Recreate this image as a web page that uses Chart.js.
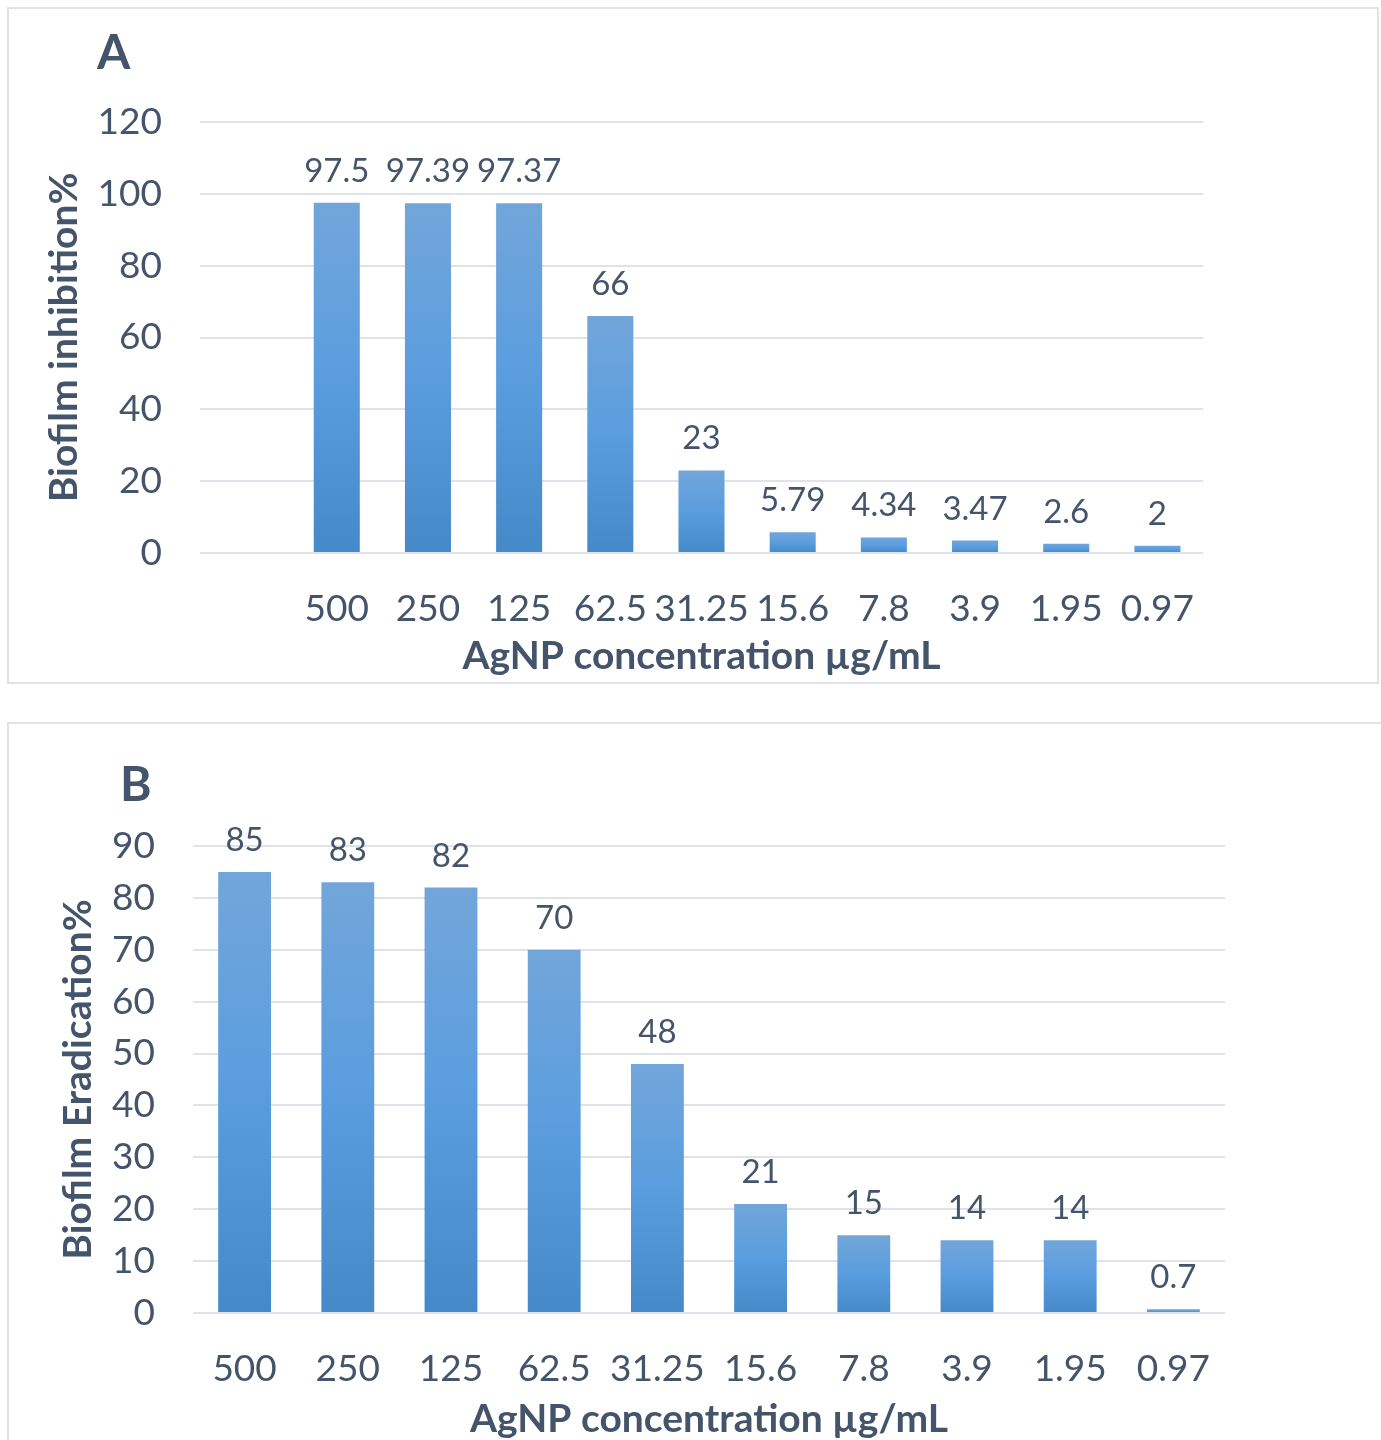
<!DOCTYPE html>
<html>
<head>
<meta charset="utf-8">
<script src="https://cdn.jsdelivr.net/npm/chart.js@4.4.1/dist/chart.umd.min.js"></script>
<style>
  html, body { margin: 0; padding: 0; background: #ffffff; }
  body { width: 1381px; height: 1440px; position: relative; overflow: hidden; font-family: Lato, sans-serif; }
  .panel { position: absolute; box-sizing: border-box; border: 2px solid #dfe3e8; background: #fff; }
  .panel canvas { position: absolute; left: 0; top: 0; }
  .tag { position: absolute; font: bold 48px/48px Lato, sans-serif; color: #44546a; }
</style>
</head>
<body>
<div class="panel" id="panelA" style="left:7px; top:7px; width:1372px; height:677px;">
  <canvas id="chartA" width="1368" height="673"></canvas>
</div>
<div class="panel" id="panelB" style="left:7px; top:722px; width:1390px; height:740px;">
  <canvas id="chartB" width="1372" height="716"></canvas>
</div>
<div class="tag" style="left:97px; top:27px;">A</div>
<div class="tag" style="left:120px; top:759px;">B</div>

<script>
// AgNP concentrations (µg/mL), highest to lowest
const concentrations = ['500', '250', '125', '62.5', '31.25', '15.6', '7.8', '3.9', '1.95', '0.97'];
// Biofilm inhibition (%) per concentration
const inhibition = [97.5, 97.39, 97.37, 66, 23, 5.79, 4.34, 3.47, 2.6, 2];
// Biofilm eradication (%) per concentration
const eradication = [85, 83, 82, 70, 48, 21, 15, 14, 14, 0.7];
// Value-axis ranges
const axisA = { max: 120, step: 20 };
const axisB = { max: 90, step: 10 };

const TEXT = '#44546a';
const GRID = '#dfe3e8';

Chart.defaults.font.family = 'Lato, sans-serif';
Chart.defaults.color = TEXT;

// Per-bar vertical gradient: lighter top, deeper bottom
function barFill(ctx) {
  const chart = ctx.chart;
  const v = ctx.raw;
  if (!chart.chartArea || v == null) return '#5b9bd5';
  const y = chart.scales.y;
  const top = y.getPixelForValue(v);
  const base = y.getPixelForValue(0);
  if (base - top < 1) return '#5b9bd5';
  const g = chart.ctx.createLinearGradient(0, top, 0, base);
  g.addColorStop(0, '#72a6da');
  g.addColorStop(0.5, '#5a9ddf');
  g.addColorStop(1, '#4689c8');
  return g;
}

// Writes each bar's value above it
const valueLabels = {
  id: 'valueLabels',
  afterDatasetsDraw(chart, args, opts) {
    const ctx = chart.ctx;
    const meta = chart.getDatasetMeta(0);
    const data = chart.data.datasets[0].data;
    ctx.save();
    ctx.font = opts.font;
    ctx.fillStyle = opts.color;
    ctx.textAlign = 'center';
    ctx.textBaseline = 'alphabetic';
    meta.data.forEach((bar, i) => {
      const v = data[i];
      if (v == null) return;
      ctx.fillText(String(v), bar.x, bar.y - opts.gap);
    });
    ctx.restore();
  }
};

function makeChart(id, labels, values, cfg) {
  return new Chart(document.getElementById(id), {
    type: 'bar',
    data: {
      labels: labels,
      datasets: [{
        data: values,
        backgroundColor: barFill,
        borderWidth: 0,
        categoryPercentage: 1,
        barPercentage: cfg.barPct
      }]
    },
    options: {
      responsive: false,
      animation: false,
      layout: { padding: { top: cfg.padTop, right: cfg.padRight, left: 0, bottom: 0 } },
      plugins: {
        legend: { display: false },
        tooltip: { enabled: false },
        valueLabels: { font: '33px Lato, sans-serif', color: TEXT, gap: 21 }
      },
      scales: {
        x: {
          grid: { display: false },
          border: { display: false },
          ticks: { font: { size: 37 }, color: TEXT, autoSkip: false, maxRotation: 0, minRotation: 0, padding: cfg.xTickPad },
          title: { display: true, text: 'AgNP concentration µg/mL', color: TEXT, font: { size: 39, weight: 'bold' }, padding: { top: 0, bottom: cfg.xTitlePad } },
          afterFit(s) { s.height = cfg.xHeight; }
        },
        y: {
          min: 0,
          max: cfg.axis.max,
          grid: { color: GRID, lineWidth: 2, drawTicks: false },
          border: { display: false },
          ticks: { stepSize: cfg.axis.step, font: { size: 37 }, color: TEXT, padding: 38 },
          title: { display: true, text: cfg.yTitle, color: TEXT, font: { size: 39, weight: 'bold' }, padding: { top: cfg.yTitlePad, bottom: 0 } },
          afterFit(s) { s.width = cfg.yWidth; }
        }
      }
    },
    plugins: [valueLabels]
  });
}

// Panel A keeps an empty leading category slot
makeChart('chartA', [''].concat(concentrations), [null].concat(inhibition), {
  axis: axisA, yTitle: 'Biofilm inhibition%', barPct: 0.505,
  padTop: 113, padRight: 174, yWidth: 191, xHeight: 129,
  xTickPad: 26, xTitlePad: 2, yTitlePad: 32
});

makeChart('chartB', concentrations, eradication, {
  axis: axisB, yTitle: 'Biofilm Eradication%', barPct: 0.512,
  padTop: 122, padRight: 156, yWidth: 184, xHeight: 127,
  xTickPad: 26, xTitlePad: -3, yTitlePad: 46
});
</script>
</body>
</html>
